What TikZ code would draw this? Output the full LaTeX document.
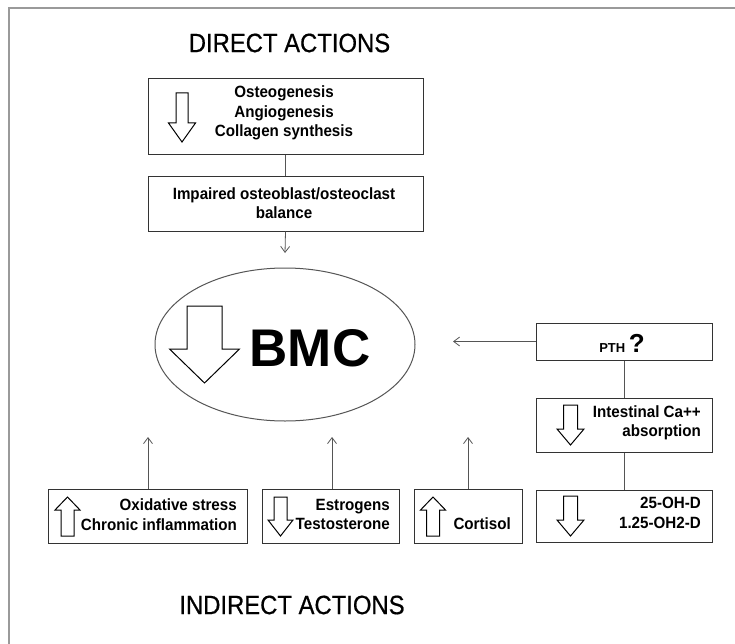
\documentclass[tikz,border=0pt]{standalone}
\usepackage{fontspec}
\usetikzlibrary{shapes.geometric,arrows.meta}
\newfontfamily\nf[FakeStretch=0.93]{Liberation Sans}
\newfontfamily\hf[FakeStretch=0.9,FakeBold=0.6]{Liberation Sans}
\newfontfamily\bmcfont{Liberation Sans}
\definecolor{boxc}{HTML}{333333}
\definecolor{linec}{HTML}{555555}
\definecolor{framec}{HTML}{9A9A9A}
\newcommand\blockarr[6]{\draw[blk] (#1-#5,#2) -- (#1+#5,#2) -- (#1+#5,#3) -- (#1+#6,#3) -- (#1,#4) -- (#1-#6,#3) -- (#1-#5,#3) -- cycle;}
\tikzset{
  box/.style={draw=boxc, line width=1pt, rectangle, inner sep=0pt, fill=white},
  txt/.style={inner sep=0pt, font=\nf\bfseries\fontsize{16.3}{19.5}\selectfont},
  head/.style={inner sep=0pt, font=\hf\fontsize{26.5}{30}\selectfont},
  blk/.style={draw=black, line width=1pt, fill=white, line join=miter},
  conn/.style={draw=linec, line width=0.8pt},
  arr/.style={conn, -{Straight Barb[length=6pt,width=9pt,line width=0.8pt]}},
}
\begin{document}
\begin{tikzpicture}[x=1pt,y=-1pt]
\useasboundingbox (0,0) rectangle (735,644);
% frame
\draw[framec, line width=1.2pt] (9,650) -- (9,8) -- (740,8);
% headings
\node[head] (dh) at (289.5,43) {DIRECT ACTIONS};
\node[head] (ih) at (292,605) {INDIRECT ACTIONS};
% direct boxes
\node[box, minimum width=275, minimum height=76] (b1) at (285.5,117) {};
\node[txt, align=center] (t1) at (284,113) {Osteogenesis\\Angiogenesis\\Collagen synthesis};
\blockarr{182}{93}{123}{142}{6}{13.5}
\node[box, minimum width=275, minimum height=54] (b2) at (285.5,204) {};
\node[txt, align=center] (t2) at (284,203) {Impaired osteoblast/osteoclast\\balance};
% ellipse
\node[ellipse, draw=linec, line width=1pt, minimum width=260, minimum height=153, inner sep=0pt] (bmc) at (285,344.5) {};
\blockarr{204.5}{306}{349}{383}{17.5}{35}
\node[inner sep=0pt, font=\bmcfont\bfseries\fontsize{53}{53}\selectfont, anchor=base] (bmct) at (310,366) {BMC};
% right column
\node[box, minimum width=176, minimum height=37] (pth) at (624,341.5) {};
\node[inner sep=0pt, anchor=base] (ptht) at (622,352) {\bmcfont\bfseries\fontsize{13}{13}\selectfont PTH \fontsize{26}{26}\selectfont ?};
\node[box, minimum width=176, minimum height=54] (int) at (624,425) {};
\node[txt, align=right, anchor=east] (intt) at (701,423) {Intestinal Ca++\\absorption};
\blockarr{570.5}{405}{429}{445}{7}{13.5}
\node[box, minimum width=176, minimum height=52] (vd) at (624,516) {};
\node[txt, align=right, anchor=east] (vdt) at (701,513) {25-OH-D\\1.25-OH2-D};
\blockarr{570.5}{496}{520}{536}{7}{13.5}
% bottom boxes
\node[box, minimum width=199, minimum height=54] (ox) at (147.5,516) {};
\node[txt, align=right, anchor=east] (oxt) at (237,514.5) {Oxidative stress\\Chronic inflammation};
\blockarr{67.5}{536}{510}{497}{6.5}{12.5}
\node[box, minimum width=137, minimum height=54] (es) at (330.5,516) {};
\node[txt, align=right, anchor=east] (est) at (390,514.5) {Estrogens\\Testosterone};
\blockarr{280.5}{497}{520}{536}{6.5}{12.5}
\node[box, minimum width=108, minimum height=54] (co) at (468,516) {};
\node[txt, anchor=base east] (cot) at (511,529) {Cortisol};
\blockarr{433}{536}{510}{497}{6.5}{12.5}
% connectors
\coordinate (e1) at (285,253);
\coordinate (e2) at (453,341.5);
\coordinate (u1) at (148,437);
\coordinate (u2) at (332,437);
\coordinate (u3) at (468,437);
\draw[conn] (b1.south) -- (b2.north);
\draw[arr] (b2.south) -- (e1);
\draw[arr] (pth.west) -- (e2);
\draw[conn] (pth.south) -- (int.north);
\draw[conn] (int.south) -- (vd.north);
\draw[arr] (ox.north -| u1) -- (u1);
\draw[arr] (es.north -| u2) -- (u2);
\draw[arr] (co.north) -- (u3);
\end{tikzpicture}
\end{document}
